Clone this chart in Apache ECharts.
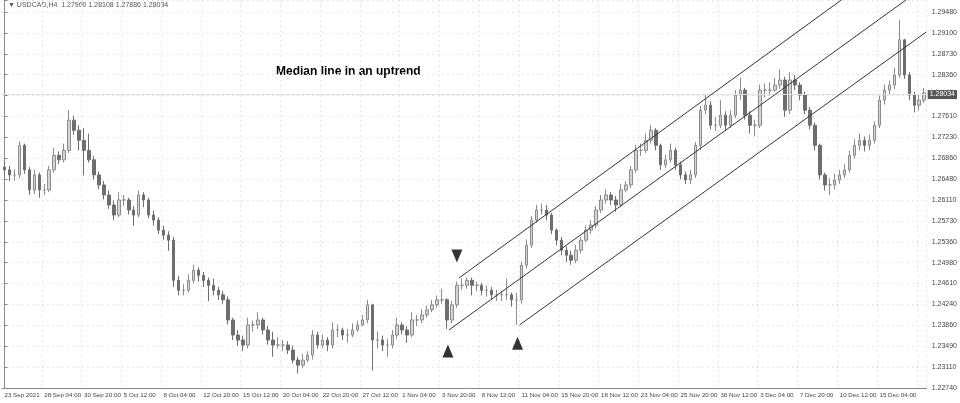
<!DOCTYPE html>
<html><head><meta charset="utf-8">
<script src="https://cdn.jsdelivr.net/npm/echarts@6/dist/echarts.min.js"></script>
<style>html,body{margin:0;padding:0;background:#fff}#c{width:960px;height:403px}</style>
</head><body><div id="c"></div>
<script>
const closes=[1.2665,1.2656,1.2656,1.2709,1.2665,1.2629,1.2656,1.2629,1.2629,1.2665,1.2691,1.2683,1.2700,1.2754,1.2736,1.2718,1.2700,1.2683,1.2656,1.2638,
1.2620,1.2602,1.2584,1.2611,1.2611,1.2593,1.2584,1.2620,1.2611,1.2584,1.2575,1.2557,1.2548,1.2539,1.2467,1.2449,1.2449,1.2467,1.2485,1.2476,
1.2467,1.2458,1.2449,1.2441,1.2432,1.2396,1.2369,1.2360,1.2351,1.2387,1.2387,1.2396,1.2378,1.2360,1.2351,1.2351,1.2351,1.2342,1.2324,1.2315,
1.2324,1.2333,1.2369,1.2351,1.2360,1.2351,1.2378,1.2378,1.2369,1.2369,1.2378,1.2387,1.2396,1.2423,1.2360,1.2360,1.2351,1.2351,1.2369,1.2387,
1.2378,1.2369,1.2396,1.2396,1.2405,1.2414,1.2423,1.2432,1.2432,1.2396,1.2423,1.2458,1.2458,1.2467,1.2458,1.2458,1.2449,1.2449,1.2441,1.2441,
1.2441,1.2441,1.2432,1.2432,1.2494,1.2530,1.2575,1.2593,1.2593,1.2584,1.2557,1.2539,1.2521,1.2512,1.2503,1.2521,1.2539,1.2557,1.2566,1.2593,
1.2611,1.2620,1.2611,1.2602,1.2629,1.2638,1.2665,1.2700,1.2700,1.2718,1.2736,1.2709,1.2674,1.2683,1.2700,1.2674,1.2656,1.2647,1.2656,1.2709,
1.2772,1.2781,1.2745,1.2745,1.2763,1.2745,1.2763,1.2799,1.2808,1.2763,1.2745,1.2745,1.2808,1.2808,1.2808,1.2817,1.2826,1.2772,1.2826,1.2817,
1.2799,1.2772,1.2745,1.2709,1.2656,1.2638,1.2638,1.2647,1.2656,1.2665,1.2691,1.2709,1.2718,1.2709,1.2718,1.2745,1.2790,1.2808,1.2817,1.2835,
1.2898,1.2835,1.2799,1.2781,1.2790,1.2803];
const firstOpen=1.2670;
const highs=[1.2680,1.2672,1.2666,1.2716,1.2712,1.2670,1.2665,1.2660,1.2640,1.2672,1.2705,1.2698,1.2712,1.2772,1.2762,1.2745,1.2740,1.2730,1.2690,1.2662,
1.2645,1.2628,1.2610,1.2625,1.2620,1.2615,1.2600,1.2628,1.2625,1.2615,1.2592,1.2580,1.2565,1.2555,1.2545,1.2475,1.2460,1.2478,1.2495,1.2490,
1.2482,1.2472,1.2470,1.2455,1.2448,1.2438,1.2400,1.2378,1.2368,1.2400,1.2395,1.2410,1.2400,1.2385,1.2375,1.2365,1.2360,1.2358,1.2350,1.2330,
1.2335,1.2340,1.2378,1.2375,1.2370,1.2365,1.2392,1.2388,1.2382,1.2380,1.2390,1.2395,1.2405,1.2432,1.2425,1.2375,1.2368,1.2362,1.2378,1.2400,
1.2392,1.2385,1.2410,1.2405,1.2415,1.2422,1.2432,1.2440,1.2452,1.2435,1.2430,1.2465,1.2470,1.2472,1.2472,1.2465,1.2462,1.2458,1.2455,1.2450,
1.2448,1.2470,1.2445,1.2445,1.2500,1.2540,1.2582,1.2602,1.2605,1.2602,1.2588,1.2560,1.2545,1.2528,1.2520,1.2530,1.2545,1.2565,1.2575,1.2600,
1.2620,1.2630,1.2625,1.2618,1.2640,1.2645,1.2672,1.2710,1.2712,1.2730,1.2745,1.2740,1.2712,1.2692,1.2712,1.2705,1.2680,1.2662,1.2665,1.2715,
1.2780,1.2800,1.2788,1.2760,1.2790,1.2770,1.2772,1.2808,1.2830,1.2812,1.2770,1.2755,1.2818,1.2820,1.2822,1.2830,1.2845,1.2832,1.2840,1.2835,
1.2822,1.2805,1.2778,1.2750,1.2712,1.2660,1.2650,1.2658,1.2665,1.2675,1.2700,1.2720,1.2730,1.2725,1.2728,1.2752,1.2798,1.2818,1.2825,1.2848,
1.2934,1.2900,1.2840,1.2805,1.2800,1.2812];
const lows=[1.2650,1.2645,1.2646,1.2650,1.2658,1.2620,1.2622,1.2615,1.2620,1.2625,1.2660,1.2675,1.2678,1.2695,1.2728,1.2700,1.2655,1.2678,1.2648,1.2630,
1.2612,1.2595,1.2575,1.2580,1.2600,1.2585,1.2565,1.2580,1.2598,1.2578,1.2565,1.2550,1.2540,1.2520,1.2455,1.2440,1.2440,1.2445,1.2462,1.2465,
1.2455,1.2430,1.2440,1.2432,1.2425,1.2388,1.2360,1.2350,1.2340,1.2345,1.2375,1.2380,1.2370,1.2352,1.2330,1.2345,1.2340,1.2335,1.2318,1.2300,
1.2310,1.2320,1.2325,1.2345,1.2345,1.2340,1.2345,1.2365,1.2360,1.2355,1.2365,1.2375,1.2385,1.2390,1.2305,1.2345,1.2340,1.2330,1.2345,1.2362,
1.2370,1.2355,1.2365,1.2385,1.2390,1.2400,1.2410,1.2418,1.2425,1.2380,1.2390,1.2418,1.2450,1.2452,1.2440,1.2448,1.2440,1.2438,1.2432,1.2430,
1.2430,1.2432,1.2420,1.2387,1.2425,1.2488,1.2525,1.2570,1.2585,1.2575,1.2550,1.2530,1.2512,1.2500,1.2495,1.2498,1.2515,1.2535,1.2550,1.2560,
1.2588,1.2605,1.2602,1.2590,1.2598,1.2625,1.2632,1.2660,1.2690,1.2695,1.2712,1.2700,1.2665,1.2668,1.2678,1.2665,1.2648,1.2640,1.2640,1.2650,
1.2700,1.2765,1.2738,1.2735,1.2740,1.2735,1.2740,1.2758,1.2790,1.2755,1.2730,1.2725,1.2740,1.2795,1.2798,1.2805,1.2810,1.2760,1.2765,1.2808,
1.2790,1.2765,1.2738,1.2700,1.2648,1.2628,1.2620,1.2630,1.2640,1.2650,1.2660,1.2685,1.2700,1.2698,1.2700,1.2712,1.2740,1.2782,1.2800,1.2810,
1.2830,1.2828,1.2790,1.2768,1.2772,1.2785];
const dateLabels=['23 Sep 2021','28 Sep 04:00','30 Sep 20:00','5 Oct 12:00','8 Oct 04:00','12 Oct 20:00','15 Oct 12:00','20 Oct 04:00','22 Oct 20:00','27 Oct 12:00','1 Nov 04:00','3 Nov 20:00','8 Nov 12:00','11 Nov 04:00','15 Nov 20:00','18 Nov 12:00','23 Nov 04:00','25 Nov 20:00','30 Nov 12:00','3 Dec 04:00','7 Dec 20:00','10 Dec 12:00','15 Dec 04:00'];
const priceTicks=['1.22740','1.23110','1.23490','1.23860','1.24240','1.24610','1.24980','1.25360','1.25730','1.26110','1.26480','1.26860','1.27230','1.27610','1.27980','1.28360','1.28730','1.29100','1.29480'];
const medianLine=[[89.4,1.2378],[181.4,1.2970]];
const upperLine=[[91.4,1.2471],[168.4,1.2970]];
const lowerLine=[[103.6,1.2387],[185.4,1.2912]];
const pivotsUp=[[89.2,1.2351],[103.2,1.2365]];
const pivotsDown=[[91,1.2500]];
const lastPrice=1.28034;

const n=closes.length;
const cats=[],ohlc=[];
for(let i=0;i<n;i++){
  cats.push(i%8===0?dateLabels[i/8]||'':'');
  const o=i===0?firstOpen:closes[i-1];
  ohlc.push([o,closes[i],lows[i],highs[i]]);
}
const yMin=1.2274,yMax=1.29695,yInt=(1.2948-1.2274)/18;
const ch=echarts.init(document.getElementById('c'));
const lineStyle={color:'#333',width:1};
const lineSer=(d)=>({type:'line',xAxisIndex:1,data:d,symbol:'none',lineStyle:lineStyle,silent:true,z:5});
const F='"Liberation Sans"';
ch.setOption({
  animation:false,
  graphic:[
    {type:'text',left:8,top:2,style:{text:'▼ USDCAD,H4  1.27900 1.28108 1.27886 1.28034',font:'7px '+F,fill:'#555'}},
    {type:'text',left:276,top:66,style:{text:'Median line in an uptrend',font:'bold 12px '+F,fill:'#000'}}
  ],
  grid:{left:2,right:30,top:0,bottom:15},
  xAxis:[{type:'category',data:cats,boundaryGap:true,
    axisLine:{lineStyle:{color:'#888'}},
    axisTick:{interval:(i)=>i%8===0,length:3,lineStyle:{color:'#888'}},
    axisLabel:{interval:(i)=>i%8===0,showMinLabel:true,hideOverlap:false,fontSize:6.2,color:'#444',align:'left',margin:4,fontFamily:'Liberation Sans'},
    splitLine:{show:true,interval:(i)=>i%8===0&&i>0,lineStyle:{color:'#e6e6e6',type:[2,3]}}},
   {type:'value',min:-0.5,max:n-0.5,show:false}],
  yAxis:{type:'value',position:'right',min:yMin,max:yMax,interval:yInt,scale:true,
    axisLine:{show:true,lineStyle:{color:'#888'}},
    axisTick:{show:true,length:3,lineStyle:{color:'#888'}},
    axisLabel:{fontSize:7,color:'#444',margin:5,fontFamily:'Liberation Sans',
      formatter:(v)=>{const k=Math.round((v-yMin)/yInt);return priceTicks[k]||'';}},
    splitLine:{show:true,lineStyle:{color:'#e6e6e6',type:[2,3]}}},
  series:[
    {type:'candlestick',data:ohlc,barWidth:3,
     itemStyle:{color:'#d4d4d4',color0:'#6e6e6e',borderColor:'#8c8c8c',borderColor0:'#6e6e6e',borderWidth:1},
     markLine:{symbol:'none',silent:true,data:[{yAxis:lastPrice}],
       lineStyle:{color:'#dde2e8',width:1,type:'solid'},
       label:{position:'end',formatter:'1.28034',backgroundColor:'#555',color:'#fff',fontSize:7,padding:[1,2],distance:1}}},
    lineSer(medianLine),lineSer(upperLine),lineSer(lowerLine),
    {type:'scatter',xAxisIndex:1,data:pivotsUp,symbol:'triangle',symbolSize:[11,13],itemStyle:{color:'#000'},symbolOffset:[0,6]},
    {type:'scatter',xAxisIndex:1,data:pivotsDown,symbol:'path://M0,0L10,0L5,11Z',symbolSize:[11,13],itemStyle:{color:'#000'},symbolOffset:[0,-6]}
  ]
});
</script></body></html>
